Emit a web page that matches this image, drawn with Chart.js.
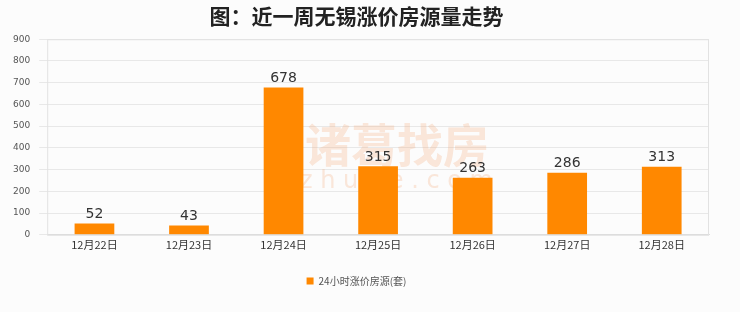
<!DOCTYPE html>
<html>
<head>
<meta charset="utf-8">
<script src="https://cdn.jsdelivr.net/npm/chart.js@4"></script>
<style>
    html, body { margin: 0; padding: 0; background: #fcfcfc; }
    #wrap { width: 740px; height: 312px; }
</style>
</head>
<body>
<div id="wrap"><canvas id="chart"></canvas></div>
<script>
const days = ['12月22日', '12月23日', '12月24日', '12月25日', '12月26日', '12月27日', '12月28日'];
const risingListings = [52, 43, 678, 315, 263, 286, 313];
const yTicks = [0, 100, 200, 300, 400, 500, 600, 700, 800, 900];

// value above each bar
const valueLabels = {
    id: 'valueLabels',
    afterDatasetsDraw(chart) {
        const ctx = chart.ctx;
        const meta = chart.getDatasetMeta(0);
        ctx.save();
        ctx.font = '14px "DejaVu Sans", sans-serif';
        ctx.fillStyle = '#333';
        ctx.textAlign = 'center';
        ctx.textBaseline = 'bottom';
        meta.data.forEach((bar, i) => {
            ctx.fillText(risingListings[i], bar.x, bar.y - 2);
        });
        ctx.restore();
    }
};

// faint site watermark + box round the plot
const decor = {
    id: 'decor',
    beforeDatasetsDraw(chart) {
        const ctx = chart.ctx;
        const a = chart.chartArea;
        ctx.save();
        ctx.strokeStyle = '#e2e2e2';
        ctx.lineWidth = 1;
        ctx.strokeRect(a.left + 0.5, a.top + 0.5, a.right - a.left - 1, a.bottom - a.top);
        ctx.fillStyle = 'rgba(245, 165, 110, 0.25)';
        ctx.font = 'bold 46px "Noto Sans CJK SC", sans-serif';
        ctx.textAlign = 'left';
        ctx.textBaseline = 'middle';
        ctx.fillText('诸葛找房', 305, 145);
        ctx.font = '24px "DejaVu Sans", sans-serif';
        ctx.fillText('z h u g e . c o m', 300, 182);
        ctx.restore();
    }
};

new Chart(document.getElementById('chart'), {
    type: 'bar',
    data: {
        labels: days,
        datasets: [{
            label: '24小时涨价房源(套)',
            data: risingListings,
            backgroundColor: '#ff8800',
            borderWidth: 0,
            barPercentage: 0.42,
            categoryPercentage: 1
        }]
    },
    plugins: [decor, valueLabels],
    options: {
        responsive: true,
        maintainAspectRatio: false,
        animation: false,
        layout: { padding: { left: 4, right: 31, top: 3, bottom: 16 } },
        plugins: {
            title: {
                display: true,
                text: '图：近一周无锡涨价房源量走势',
                color: '#222',
                font: { size: 21, weight: 'bold', family: '"Noto Sans CJK SC", sans-serif' },
                padding: { top: 0, bottom: 11 }
            },
            legend: {
                position: 'bottom',
                labels: {
                    boxWidth: 7,
                    boxHeight: 7,
                    color: '#555',
                    font: { size: 10, family: '"Noto Sans CJK SC", sans-serif' },
                    padding: 22
                }
            },
            tooltip: { enabled: false }
        },
        scales: {
            x: {
                grid: { display: false, drawTicks: false },
                border: { color: '#ddd' },
                ticks: {
                    color: '#333',
                    font: { size: 11, family: '"Noto Sans CJK SC", sans-serif' },
                    padding: 3
                }
            },
            y: {
                min: 0,
                max: 900,
                afterBuildTicks(axis) {
                    axis.ticks = yTicks.map(v => ({ value: v }));
                },
                grid: { color: '#e8e8e8' },
                border: { display: false },
                ticks: {
                    color: '#555',
                    font: { size: 9, family: '"DejaVu Sans", sans-serif' },
                    padding: 9
                }
            }
        }
    }
});
</script>
</body>
</html>
